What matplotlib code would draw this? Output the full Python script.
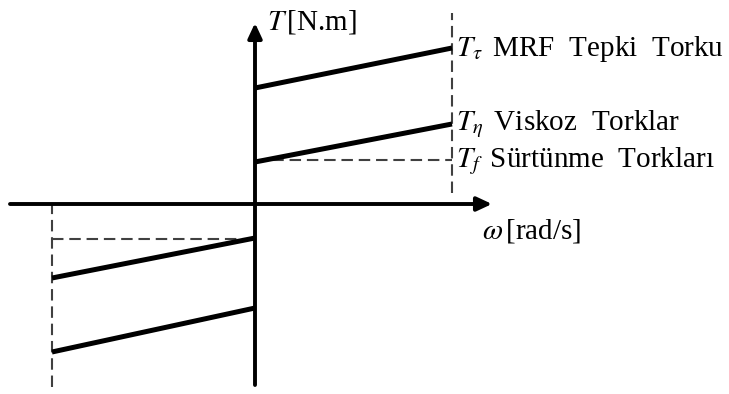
import numpy as np
import matplotlib
matplotlib.use("Agg")
import matplotlib.pyplot as plt

# ── Torque–speed model (arbitrary units, origin at ω = 0, T = 0) ──
omega_pos = [0, 197]
omega_neg = [-203, 0]
T_mrf_pos = [116, 156]
T_mrf_neg = [-148, -104]
T_visc_pos = [42, 80]
T_visc_neg = [-74, -34]
T_fric_pos = 44
T_fric_neg = -35

labels = [r"$T_\tau\,$ MRF  Tepki  Torku", r"$T_\eta\,$ Viskoz  Torklar", r"$T_f\,$ Sürtünme  Torkları"]
label_y = [148, 74, 37]

plt.rcParams.update({
    "font.family": "Liberation Serif",
    "mathtext.fontset": "stix",
    "font.size": 21,
})

fig = plt.figure(figsize=(7.29, 3.94), dpi=100)
ax = fig.add_axes([0, 0, 1, 1])
ax.set_xlim(-255, 474)
ax.set_ylim(-190, 204)
ax.axis("off")

# axes with arrow heads
arrow = dict(arrowstyle="-|>,head_length=0.9,head_width=0.42", color="black",
             lw=2.8, mutation_scale=10, shrinkA=0, shrinkB=0)
ax.annotate("", xy=(237, 0), xytext=(-245, 0), arrowprops=arrow)
ax.annotate("", xy=(0, 181), xytext=(0, -181), arrowprops=arrow)

dash = dict(color="#404040", lw=1.5, dashes=(5.5, 2.8))
# limits of the speed range
ax.plot([omega_pos[1]] * 2, [11, 191], **dash)
ax.plot([omega_neg[0]] * 2, [-183, 0], **dash)
# Coulomb friction levels
ax.plot(omega_pos, [T_fric_pos] * 2, **dash)
ax.plot(omega_neg, [T_fric_neg] * 2, **dash)

thick = dict(color="black", lw=3.6, solid_capstyle="butt")
ax.plot(omega_pos, T_mrf_pos, **thick)
ax.plot(omega_pos, T_visc_pos, **thick)
ax.plot(omega_neg, T_mrf_neg, **thick)
ax.plot(omega_neg, T_visc_neg, **thick)

for txt, y in zip(labels, label_y):
    ax.text(omega_pos[1] + 4, y, txt, va="baseline", ha="left")

ax.text(12, 175, r"$T\,$[N.m]", va="baseline", ha="left")
ax.text(227, -34, r"$\omega\,$[rad/s]", va="baseline", ha="left")

fig.savefig("out.png", dpi=100)
